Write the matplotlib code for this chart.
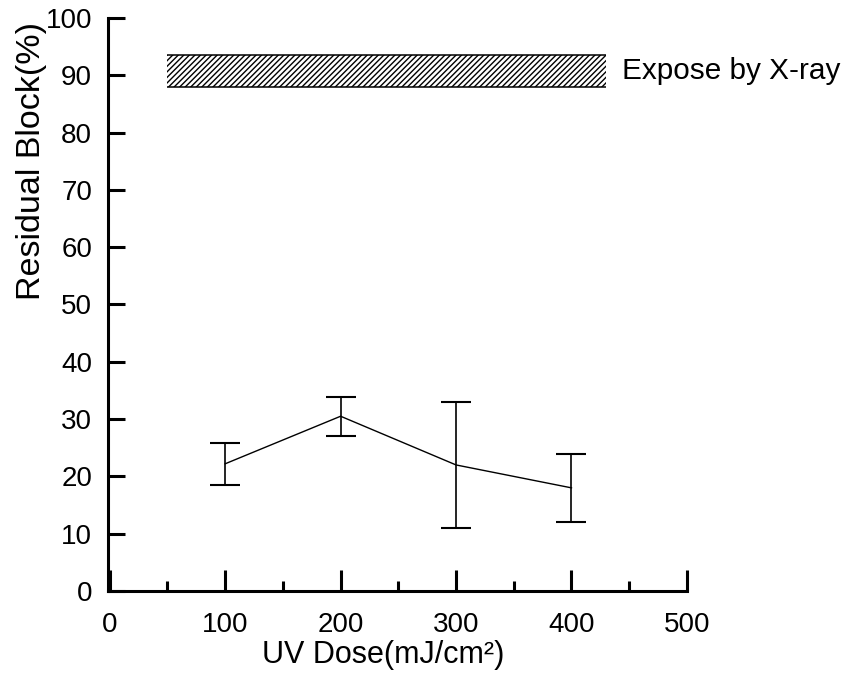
import matplotlib
matplotlib.use("Agg")
import matplotlib.pyplot as plt
from matplotlib.ticker import MultipleLocator

plt.rcParams['font.family'] = ['Liberation Sans', 'DejaVu Sans']
plt.rcParams['hatch.linewidth'] = 1.0

# UV dose series with error bars
dose = [100, 200, 300, 400]
residual = [22.2, 30.5, 22.0, 18.0]
err_low = [18.5, 27.0, 11.0, 12.0]
err_high = [25.8, 33.9, 33.0, 23.9]

# X-ray exposure reference band
band_x = [50, 430]
band_low = 88.0
band_high = 93.5
band_label = "Expose by X-ray"

x_ticks = [0, 100, 200, 300, 400, 500]
y_ticks = [0, 10, 20, 30, 40, 50, 60, 70, 80, 90, 100]

fig = plt.figure(figsize=(8.47, 6.79), dpi=100)
ax = fig.add_axes([0.1275, 0.1296, 0.811 - 0.1275, 0.9735 - 0.1296])

yerr = [[r - lo for r, lo in zip(residual, err_low)],
        [hi - r for r, hi in zip(residual, err_high)]]
ax.errorbar(dose, residual, yerr=yerr, color='black', linewidth=1.0,
            elinewidth=1.2, capsize=10.5, capthick=1.5)

ax.fill_between(band_x, band_low, band_high, facecolor='white',
                edgecolor='black', hatch='//////', linewidth=0)
ax.hlines([band_low, band_high], band_x[0], band_x[1], color='black', linewidth=1.1)
ax.text(band_x[1] + 14, 89.35, band_label,
        fontsize=21.4, va='baseline', ha='left', clip_on=False)

ax.set_xlim(-1.5, 500)
ax.set_ylim(0, 100)
ax.set_xticks(x_ticks)
ax.set_yticks(y_ticks)
ax.xaxis.set_minor_locator(MultipleLocator(50))

for s in ['top', 'right']:
    ax.spines[s].set_visible(False)
for s in ['left', 'bottom']:
    ax.spines[s].set_linewidth(2.2)

ax.tick_params(axis='x', which='major', direction='in', length=15, width=2.2,
               labelsize=20, pad=15)
ax.tick_params(axis='x', which='minor', direction='in', length=7, width=2.2)
ax.tick_params(axis='y', which='major', direction='in', length=12, width=2.2,
               labelsize=20, pad=11.5)

ax.set_xlabel("UV Dose(mJ/cm²)", fontsize=22)
ax.xaxis.set_label_coords(0.476, -0.085)
ax.set_ylabel("Residual Block(%)", fontsize=24.5)
ax.yaxis.set_label_coords(-0.1055, 0.75)

fig.savefig("out.png", dpi=100)
